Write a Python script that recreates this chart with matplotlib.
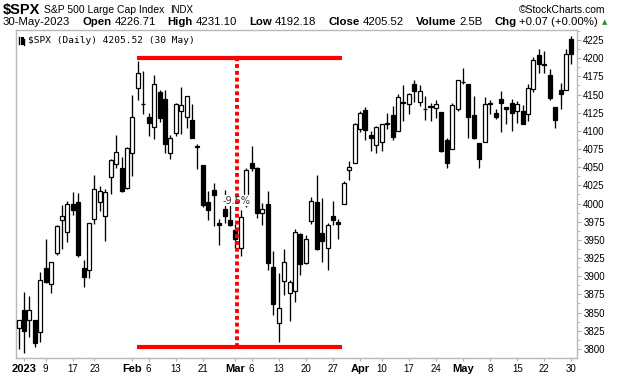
import matplotlib
matplotlib.use("Agg")
import matplotlib.pyplot as plt
from matplotlib.lines import Line2D

# trading days shown (Dec 30 is only half visible at the left edge)
dates = [
    "2022-12-30",
    "2023-01-03", "2023-01-04", "2023-01-05", "2023-01-06", "2023-01-09", "2023-01-10", "2023-01-11",
    "2023-01-12", "2023-01-13", "2023-01-17", "2023-01-18", "2023-01-19", "2023-01-20", "2023-01-23",
    "2023-01-24", "2023-01-25", "2023-01-26", "2023-01-27", "2023-01-30", "2023-01-31",
    "2023-02-01", "2023-02-02", "2023-02-03", "2023-02-06", "2023-02-07", "2023-02-08", "2023-02-09",
    "2023-02-10", "2023-02-13", "2023-02-14", "2023-02-15", "2023-02-16", "2023-02-17", "2023-02-21",
    "2023-02-22", "2023-02-23", "2023-02-24", "2023-02-27", "2023-02-28",
    "2023-03-01", "2023-03-02", "2023-03-03", "2023-03-06", "2023-03-07", "2023-03-08", "2023-03-09",
    "2023-03-10", "2023-03-13", "2023-03-14", "2023-03-15", "2023-03-16", "2023-03-17", "2023-03-20",
    "2023-03-21", "2023-03-22", "2023-03-23", "2023-03-24", "2023-03-27", "2023-03-28", "2023-03-29",
    "2023-03-30", "2023-03-31",
    "2023-04-03", "2023-04-04", "2023-04-05", "2023-04-06", "2023-04-10", "2023-04-11", "2023-04-12",
    "2023-04-13", "2023-04-14", "2023-04-17", "2023-04-18", "2023-04-19", "2023-04-20", "2023-04-21",
    "2023-04-24", "2023-04-25", "2023-04-26", "2023-04-27", "2023-04-28",
    "2023-05-01", "2023-05-02", "2023-05-03", "2023-05-04", "2023-05-05", "2023-05-08", "2023-05-09",
    "2023-05-10", "2023-05-11", "2023-05-12", "2023-05-15", "2023-05-16", "2023-05-17", "2023-05-18",
    "2023-05-19", "2023-05-22", "2023-05-23", "2023-05-24", "2023-05-25", "2023-05-26", "2023-05-30",
]

opens = [
    3829.06,
    3853.29, 3840.36, 3839.74, 3823.37, 3910.82, 3888.57, 3932.35, 3977.57, 3960.60, 3999.28,
    4002.25, 3911.84, 3909.04, 3978.14, 4001.74, 3982.71, 4036.08, 4053.72, 4049.27, 4020.85,
    4070.07, 4158.68, 4136.69, 4119.57, 4105.35, 4153.47, 4144.25, 4068.92, 4096.62, 4126.70,
    4119.50, 4114.75, 4077.39, 4052.35, 4001.83, 4018.60, 3973.24, 3992.36, 3977.19,
    3963.34, 3938.68, 3998.02, 4055.15, 4048.26, 3987.55, 3998.66, 3912.77, 3835.12, 3894.01,
    3876.74, 3878.93, 3958.69, 3917.47, 3975.89, 4002.04, 3959.21, 3939.21, 3982.93, 3974.13,
    3999.53, 4046.74, 4056.18,
    4102.20, 4128.03, 4094.50, 4081.15, 4085.20, 4110.29, 4121.72, 4100.04, 4140.11, 4137.17,
    4164.26, 4139.33, 4130.48, 4132.14, 4132.07, 4126.43, 4087.78, 4075.29, 4129.63,
    4166.79, 4164.10, 4122.25, 4082.61, 4084.73, 4136.98, 4124.25, 4143.74, 4132.24, 4138.54,
    4126.65, 4127.95, 4122.85, 4157.68, 4204.15, 4190.78, 4176.80, 4132.96, 4155.71, 4156.16,
    4226.71,
]
highs = [
    3839.85,
    3878.46, 3873.16, 3839.74, 3906.19, 3950.57, 3919.83, 3970.07, 3997.76, 4003.95, 4015.39,
    4014.16, 3922.94, 3972.96, 4039.31, 4023.92, 4019.55, 4061.57, 4094.21, 4063.85, 4077.16,
    4148.95, 4195.44, 4182.36, 4124.63, 4176.54, 4156.85, 4156.23, 4094.36, 4138.90, 4159.77,
    4148.11, 4136.54, 4081.51, 4052.35, 4017.37, 4028.30, 3978.25, 4018.05, 3997.50,
    3971.73, 3990.84, 4048.29, 4078.49, 4050.00, 4000.41, 4017.81, 3934.05, 3905.05, 3937.29,
    3894.26, 3964.46, 3958.91, 3956.62, 4009.08, 4039.49, 4007.66, 3972.74, 4003.83, 3979.20,
    4030.59, 4057.85, 4110.75,
    4127.66, 4133.13, 4099.69, 4107.32, 4109.50, 4124.26, 4134.37, 4150.26, 4163.19, 4151.72,
    4169.48, 4162.57, 4148.57, 4138.02, 4142.41, 4126.43, 4089.67, 4138.24, 4170.06,
    4186.92, 4164.10, 4148.30, 4082.61, 4147.02, 4142.30, 4130.35, 4154.28, 4132.80, 4143.74,
    4141.25, 4135.54, 4164.67, 4202.20, 4212.91, 4209.22, 4185.68, 4132.96, 4165.74, 4212.87,
    4231.10,
]
lows = [
    3800.34,
    3794.33, 3815.77, 3802.42, 3809.56, 3890.42, 3877.29, 3928.54, 3937.56, 3947.67, 3984.57,
    3926.59, 3885.54, 3897.86, 3971.64, 3989.79, 3949.06, 4013.29, 4048.70, 4015.55, 4020.44,
    4037.20, 4141.88, 4123.36, 4093.38, 4088.39, 4111.67, 4069.67, 4060.79, 4092.67, 4095.01,
    4103.98, 4089.49, 4047.95, 3995.19, 3976.90, 3969.19, 3943.08, 3973.55, 3968.98,
    3939.05, 3928.16, 3995.17, 4044.61, 3980.31, 3969.76, 3908.70, 3846.32, 3808.86, 3873.63,
    3838.24, 3864.11, 3901.27, 3916.89, 3971.19, 3936.17, 3919.05, 3909.16, 3970.47, 3951.53,
    3999.53, 4032.10, 4056.18,
    4098.79, 4086.87, 4072.56, 4069.84, 4072.55, 4102.61, 4086.94, 4099.40, 4113.20, 4123.18,
    4140.36, 4134.49, 4114.57, 4113.86, 4117.77, 4071.38, 4049.35, 4075.29, 4127.18,
    4164.12, 4089.72, 4088.86, 4048.28, 4084.73, 4123.81, 4116.65, 4098.92, 4109.29, 4099.12,
    4110.27, 4109.86, 4113.62, 4153.50, 4180.20, 4179.68, 4142.54, 4103.98, 4129.73, 4156.16,
    4192.18,
]
closes = [
    3839.50,
    3824.14, 3852.97, 3808.10, 3895.08, 3892.09, 3919.25, 3969.61, 3983.17, 3999.09, 3990.97,
    3928.86, 3898.85, 3972.61, 4019.81, 4016.95, 4016.22, 4060.43, 4070.56, 4017.77, 4076.60,
    4119.21, 4179.76, 4136.48, 4111.08, 4164.00, 4117.86, 4081.50, 4090.46, 4137.29, 4136.13,
    4147.60, 4090.41, 4079.09, 3997.34, 3991.05, 4012.32, 3970.04, 3982.24, 3970.15,
    3951.39, 3981.35, 4045.64, 4048.42, 3986.37, 3992.01, 3918.32, 3861.59, 3855.76, 3919.29,
    3891.93, 3960.28, 3916.64, 3951.57, 4002.87, 3936.97, 3948.72, 3970.99, 3977.53, 3971.27,
    4027.81, 4050.83, 4109.31,
    4124.51, 4100.60, 4090.38, 4105.02, 4109.11, 4108.94, 4091.95, 4146.22, 4137.64, 4151.32,
    4154.87, 4154.52, 4129.79, 4133.52, 4137.04, 4071.63, 4055.99, 4135.35, 4169.48,
    4167.87, 4119.58, 4090.75, 4061.22, 4136.25, 4138.12, 4119.17, 4137.64, 4130.62, 4124.08,
    4136.28, 4109.90, 4158.77, 4198.05, 4191.98, 4192.63, 4145.58, 4115.24, 4151.28, 4205.45,
    4205.52,
]

month_ticks = [("2023-01-03", "2023"), ("2023-02-01", "Feb"), ("2023-03-01", "Mar"),
               ("2023-04-03", "Apr"), ("2023-05-01", "May")]
day_ticks = ["2023-01-09", "2023-01-17", "2023-01-23", "2023-02-06", "2023-02-13", "2023-02-21",
             "2023-03-06", "2023-03-13", "2023-03-20", "2023-03-27", "2023-04-10", "2023-04-17",
             "2023-04-24", "2023-05-08", "2023-05-15", "2023-05-22", "2023-05-30"]

# annotation: drawdown from the Feb high to the March low
range_top = 4200
range_bottom = 3803
range_from = "2023-02-01"
range_to = "2023-03-27"
drop_day = "2023-03-01"
drop_label = "-9.5%"

header_groups = [("30-May-2023", None), ("Open", "4226.71"), ("High", "4231.10"),
                 ("Low", "4192.18"), ("Close", "4205.52"), ("Volume", "2.5B"),
                 ("Chg", "+0.07 (+0.00%)")]

W, H = 620, 376
plt.rcParams["font.family"] = ["Liberation Sans", "DejaVu Sans"]

fig = plt.figure(figsize=(W / 100, H / 100), dpi=100)
ax = fig.add_axes([16 / W, 1 - 358 / H, (577 - 16) / W, (358 - 30) / H])

xs = list(range(len(dates)))
for x, o, h, l, c in zip(xs, opens, highs, lows, closes):
    ax.vlines(x, l, h, color="black", lw=0.95, zorder=2)
    fill = "white" if c >= o else "black"
    body = max(abs(c - o), 0.4)
    ax.bar(x, body, bottom=min(o, c), width=0.74, facecolor=fill,
           edgecolor="black", lw=0.9, zorder=3)

# red range lines
i0 = dates.index(range_from) + 0.85
i1 = dates.index(range_to) + 1.7
ax.hlines([range_top, range_bottom], i0, i1, color="#ff0000", lw=3.0, zorder=6)
xd = dates.index(drop_day) + 0.25
ax.vlines(xd, range_bottom, range_top, color="#ff0000", lw=2.8,
          linestyles=[(0, (1.0, 0.75))], zorder=6)
# white patch under the label, the dotted line stays visible, text on top
ax.text(xd, 4004, drop_label, ha="center", va="center", fontsize=7, color="white",
        family="DejaVu Sans", zorder=5, bbox=dict(facecolor="white", edgecolor="none", pad=0.3))
ax.text(xd, 4004, drop_label, ha="center", va="center", fontsize=7,
        color="#333333", family="DejaVu Sans", zorder=7)

ax.set_xlim(-0.48, len(dates) - 1 + 1.03)
ax.set_ylim(4225 - (358 - 40) / 0.7267, 4225 + (40 - 30) / 0.7267)

# axes styling
for s in ax.spines.values():
    s.set_color("#b8b8b8")
    s.set_linewidth(1)
ax.yaxis.tick_right()
ax.set_yticks(range(3800, 4226, 25))
ax.set_yticks([v + 12.5 for v in range(3800, 4226, 25)], minor=True)
ax.tick_params(axis="y", which="both", colors="#b0b0b0", labelcolor="black",
               labelsize=7, length=3, pad=1.5)
ax.tick_params(axis="y", which="minor", length=2)

pos = [dates.index(d) for d, _ in month_ticks] + [dates.index(d) for d in day_ticks]
labs = [m for _, m in month_ticks] + [str(int(d[-2:])) for d in day_ticks]
ax.set_xticks(pos, labs)
ax.tick_params(axis="x", length=2, colors="#b0b0b0", labelcolor="black", pad=2)
for t, lab in zip(ax.get_xticklabels(), labs):
    if lab.isalpha() or lab == "2023":
        t.set_fontweight("bold")
        t.set_fontsize(8)
    else:
        t.set_fontsize(7)

fig.canvas.draw()
rend = fig.canvas.get_renderer()


# header rows
def row(parts, x0, y):
    x = x0
    for s, fs, bold, gap in parts:
        t = fig.text(x / W, 1 - y / H, s, fontsize=fs, fontweight="bold" if bold else "normal",
                     va="center", ha="left")
        x += t.get_window_extent(renderer=rend).width + gap


row([("$SPX", 10.5, True, 4),
     ("S&P 500 Large Cap Index", 7.5, False, 5),
     ("INDX", 7, False, 0)], 3, 10)
fig.text(605 / W, 1 - 10 / H, "\u00a9StockCharts.com", fontsize=7.5, ha="right", va="center")

# second header line: spread the groups so the line ends just before the arrow
texts = []
for a, b in header_groups:
    ta = fig.text(0, 1 - 22 / H, a, fontsize=8.2, fontweight="normal" if b is None else "bold",
                  va="center", ha="left")
    tb = None
    if b is not None:
        tb = fig.text(0, 1 - 22 / H, b, fontsize=8.2, va="center", ha="left")
    texts.append((ta, tb))
inner = 3
widths = []
for ta, tb in texts:
    w = ta.get_window_extent(renderer=rend).width
    if tb is not None:
        w += inner + tb.get_window_extent(renderer=rend).width
    widths.append(w)
x_start, x_end = 3, 598
gap = (x_end - x_start - sum(widths)) / (len(widths) - 1)
x = x_start
for (ta, tb), w in zip(texts, widths):
    ta.set_x(x / W)
    if tb is not None:
        tb.set_x((x + ta.get_window_extent(renderer=rend).width + inner) / W)
    x += w + gap
fig.text(607 / W, 1 - 22 / H, "\u25b2", fontsize=5, ha="right", va="center",
         color="#2e8b3e", family="DejaVu Sans")

# small legend icon and label inside the chart
for xi, y0, y1, lw in [(19, 37, 44, 1.0), (21.5, 38, 43, 2.2), (24.5, 39, 45, 1.0)]:
    fig.add_artist(Line2D([xi / W, xi / W], [1 - y0 / H, 1 - y1 / H], color="black", lw=lw,
                          transform=fig.transFigure))
fig.text(28 / W, 1 - 40.5 / H, "$SPX (Daily) 4205.52 (30 May)", fontsize=6.8,
         family="DejaVu Sans Mono", va="center", ha="left")

fig.savefig("out.png", dpi=100)
